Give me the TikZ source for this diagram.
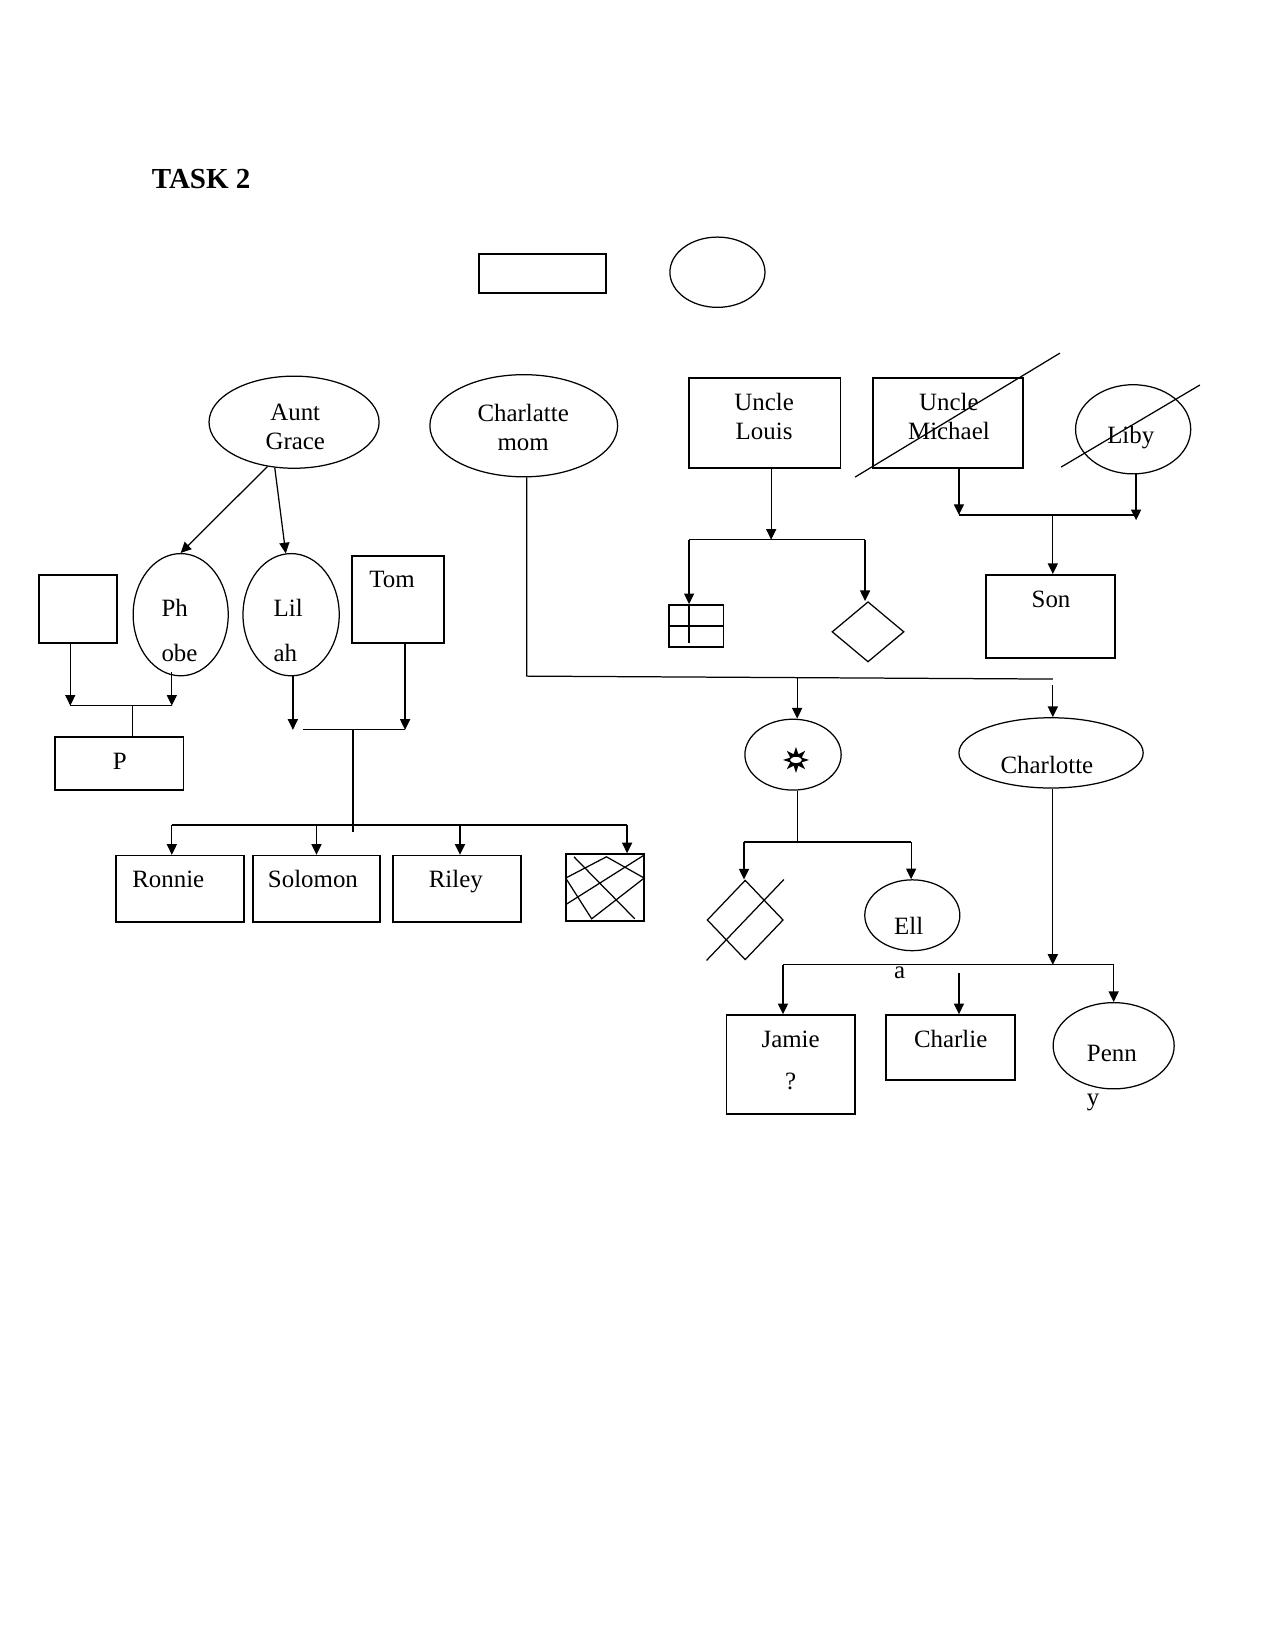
\documentclass[tikz,border=0pt]{standalone}
\usepackage{fontspec}
\setmainfont{Liberation Serif}
\usetikzlibrary{arrows.meta,shapes.geometric}

\begin{document}
\begin{tikzpicture}[every node/.style={font=\fontsize{12}{14}\selectfont}, >={Triangle[length=1.8mm,width=1.7mm]}, line width=0.6pt,
	box/.style={draw, line width=0.8pt, inner sep=0pt},
	oval/.style={draw, ellipse, inner sep=0pt},
	txt/.style={inner sep=0pt, text height=8pt, text depth=2.5pt},
	twoline/.style={inner sep=0pt, align=center},
	wrap/.style={inner sep=0pt, align=left, font=\fontsize{12}{21.5}\selectfont}]
	\useasboundingbox (0,0) rectangle (21.59,-27.96);
	\node[anchor=west, inner sep=0pt, font=\fontsize{14}{16}\selectfont\bfseries] (task) at (2.56,-3.03) {TASK 2};
	\node[box, minimum width=2.15cm, minimum height=0.66cm] (keybox) at (9.19,-4.63) {};
	\node[oval, minimum width=1.61cm, minimum height=1.19cm] (keyoval) at (12.15,-4.61) {};
	\node[oval, minimum width=2.88cm, minimum height=1.56cm] (grace) at (4.98,-7.15) {};
	\node[twoline] (gracet) at (5.00,-7.23) {Aunt\\Grace};
	\node[oval, minimum width=3.18cm, minimum height=1.73cm] (mom) at (8.87,-7.21) {};
	\node[twoline] (momt) at (8.86,-7.24) {Charlatte\\mom};
	\node[box, minimum width=2.57cm, minimum height=1.52cm] (louis) at (12.95,-7.16) {};
	\node[twoline] (louist) at (12.94,-7.05) {Uncle\\Louis};
	\node[box, minimum width=2.54cm, minimum height=1.52cm] (michael) at (16.05,-7.16) {};
	\node[twoline] (michaelt) at (16.07,-7.05) {Uncle\\Michael};
	\node[oval, minimum width=1.95cm, minimum height=1.51cm] (liby) at (19.19,-7.27) {};
	\node[txt] (libyt) at (19.15,-7.42) {Liby};
	\draw (14.48,-8.08) -- (17.95,-5.98);
	\draw (17.97,-7.91) -- (20.32,-6.52);
	\node[box, minimum width=1.32cm, minimum height=1.15cm] (blank) at (1.32,-10.31) {};
	\node[oval, minimum width=1.61cm, minimum height=2.07cm] (phobe) at (3.06,-10.41) {};
	\node[wrap] (phobet) at (3.04,-10.68) {Ph\\obe};
	\node[oval, minimum width=1.63cm, minimum height=2.07cm] (lilah) at (4.93,-10.41) {};
	\node[wrap] (lilaht) at (4.88,-10.68) {Lil\\ah};
	\node[box, minimum width=1.56cm, minimum height=1.47cm] (tom) at (6.74,-10.15) {};
	\node[txt] (tomt) at (6.64,-9.855) {Tom};
	\node[box, minimum width=2.17cm, minimum height=0.90cm] (pbox) at (2.02,-12.93) {};
	\node[txt] (pt) at (2.03,-12.93) {P};
	\node[box, minimum width=2.17cm, minimum height=1.12cm] (ronnie) at (3.05,-15.05) {};
	\node[txt] (ronniet) at (2.85,-14.935) {Ronnie};
	\node[box, minimum width=2.15cm, minimum height=1.12cm] (solomon) at (5.36,-15.05) {};
	\node[txt] (solomont) at (5.30,-14.935) {Solomon};
	\node[box, minimum width=2.17cm, minimum height=1.12cm] (riley) at (7.74,-15.05) {};
	\node[txt] (rileyt) at (7.72,-14.935) {Riley};
	\node[box, minimum width=1.32cm, minimum height=1.13cm] (hatch) at (10.25,-15.03) {};
	\draw (10.27,-14.51) -- (10.91,-14.87) -- (10.02,-15.56) -- (9.58,-14.87) -- cycle;
	\draw (9.72,-14.51) -- (10.75,-15.56);
	\draw (9.58,-15.32) -- (10.91,-14.48);
	\node[box, minimum width=0.93cm, minimum height=0.71cm] (grid) at (11.79,-10.60) {};
	\node[draw, diamond, inner sep=0pt, minimum width=1.22cm, minimum height=1.02cm] (rhomb) at (14.70,-10.70) {};
	\node[box, minimum width=2.18cm, minimum height=1.41cm] (son) at (17.79,-10.44) {};
	\node[txt] (sont) at (17.80,-10.185) {Son};
	\node[oval, minimum width=1.63cm, minimum height=1.20cm] (sun) at (13.43,-12.78) {};
	\node[star, star points=8, star point ratio=2.1, fill, inner sep=0pt, minimum size=0.44cm] (sunstar) at (13.48,-12.87) {};
	\node[ellipse, fill=white, inner sep=0pt, minimum width=0.2cm, minimum height=0.1cm] (sunhole) at (sunstar) {};
	\node[oval, minimum width=3.12cm, minimum height=1.19cm] (charlotte) at (17.80,-12.75) {};
	\node[txt] (charlottet) at (17.73,-13.00) {Charlotte};
	\node[draw, diamond, inner sep=0pt, minimum width=1.29cm, minimum height=1.35cm] (xrhomb) at (12.62,-15.58) {};
	\draw (xrhomb.west |- xrhomb.south) -- (xrhomb.east |- xrhomb.north);
	\node[oval, minimum width=1.61cm, minimum height=1.20cm] (ella) at (15.45,-15.50) {};
	\node[wrap, font=\fontsize{12}{21.2}\selectfont] (ellat) at (15.39,-16.06) {Ell\\a};
	\node[box, minimum width=2.17cm, minimum height=1.68cm] (jamie) at (13.39,-18.03) {};
	\node[twoline, font=\fontsize{12}{20.2}\selectfont] (jamiet) at (13.39,-17.96) {Jamie\\?};
	\node[box, minimum width=2.18cm, minimum height=1.10cm] (charlie) at (16.10,-17.74) {};
	\node[txt] (charliet) at (16.10,-17.645) {Charlie};
	\node[oval, minimum width=2.05cm, minimum height=1.46cm] (penny) at (18.86,-17.71) {};
	\node[wrap, font=\fontsize{12}{21.2}\selectfont] (pennyt) at (18.83,-18.26) {Penn\\y};
	\draw[->] (grace.-121) -- (phobe.north);
	\draw[->] (grace.-113) -- (lilah.95);
	\coordinate (pj1) at (1.19,-11.95);
	\coordinate (pj2) at (2.91,-11.95);
	\coordinate (pj) at (2.25,-11.95);
	\draw[->] (blank.south -| pj1) -- (pj1);
	\draw[->] ([yshift=0.07cm]phobe.south -| pj2) -- (pj2);
	\draw (pj1) -- (pj2);
	\draw (pj) -- (pj |- pbox.north);
	\coordinate (lj0) at (5.13,-12.36);
	\coordinate (lj1) at (4.96,-12.36);
	\coordinate (lj2) at (6.86,-12.36);
	\coordinate (lj) at (5.98,-12.36);
	\draw[->] (lilah.south -| lj1) -- (lj1);
	\draw[->] (tom.south -| lj2) -- (lj2);
	\draw (lj0) -- (lj2);
	\draw (lj) -- (5.98,-14.09);
	\coordinate (kj1) at (2.91,-13.97);
	\coordinate (kj4) at (10.62,-13.97);
	\draw (kj1) -- (kj4);
	\draw[->] (kj1) -- (kj1 |- ronnie.north);
	\draw[->] (solomon.north |- kj1) -- (solomon.north);
	\draw[->] ([xshift=0.05cm]riley.north |- kj1) -- ([xshift=0.05cm]riley.north);
	\draw[->] (kj4) -- (kj4 |- hatch.north);
	\coordinate (uj) at (13.06,-9.14);
	\coordinate (uj1) at (11.67,-9.14);
	\coordinate (uj2) at (14.65,-9.14);
	\draw[->] (louis.south -| uj) -- (uj);
	\draw (uj1) -- (uj2);
	\draw[->] (uj1) -- (uj1 |- grid.north);
	\draw (uj1 |- grid.north) -- ([yshift=0.08cm]uj1 |- grid.south);
	\draw (grid.west) -- (grid.east);
	\draw[->] (uj2) -- (uj2 |- rhomb.north);
	\coordinate (mj1) at (16.24,-8.72);
	\coordinate (mj2) at (19.24,-8.81);
	\coordinate (mj) at (17.83,-8.72);
	\draw[->] (michael.south -| mj1) -- (mj1);
	\draw[->] (liby.south -| mj2) -- (mj2);
	\draw (mj1) -- (mj1 -| mj2);
	\draw[->] (mj) -- (mj |- son.north);
	\coordinate (cj0) at (8.92,-11.45);
	\coordinate (cj1) at (13.50,-11.47);
	\coordinate (cj2) at (17.83,-11.50);
	\coordinate (cj3) at (17.83,-11.60);
	\draw (mom.south -| cj0) -- (cj0) -- (cj2);
	\draw[->] (cj1) -- (cj1 |- sun.north);
	\draw[->] (cj3) -- (cj3 |- charlotte.north);
	\coordinate (sj) at (13.50,-14.26);
	\coordinate (sj1) at (12.60,-14.26);
	\coordinate (sj2) at (15.43,-14.26);
	\draw (sun.south -| sj) -- (sj);
	\draw (sj1) -- (sj2);
	\draw[->] (sj1) -- (sj1 |- xrhomb.north);
	\draw[->] (sj2) -- (sj2 |- ella.north);
	\coordinate (hj) at (17.83,-16.34);
	\coordinate (hj1) at (13.26,-16.34);
	\coordinate (hj2) at (16.24,-16.48);
	\coordinate (hj3) at (18.86,-16.34);
	\draw[->] (charlotte.south -| hj) -- (hj);
	\draw (hj1) -- (hj3);
	\draw[->] (hj1) -- (hj1 |- jamie.north);
	\draw[->] (hj2) -- (hj2 |- charlie.north);
	\draw[->] (hj3) -- (penny.north);
\end{tikzpicture}
\end{document}
